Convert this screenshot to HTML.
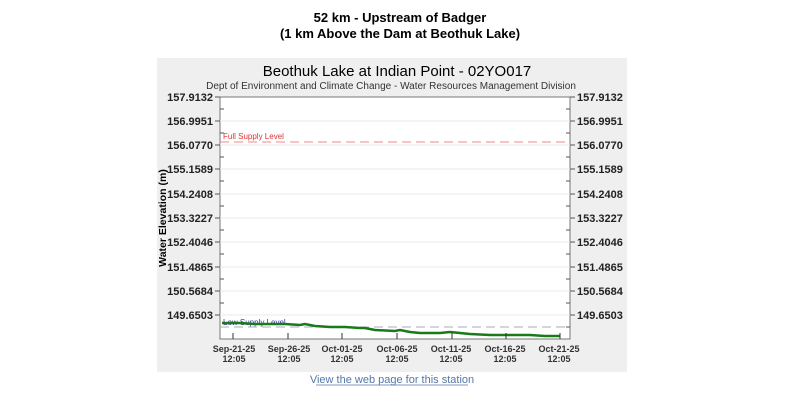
<!DOCTYPE html>
<html><head><style>
body{margin:0;background:#fff;width:800px;height:400px;overflow:hidden;font-family:"Liberation Sans",Arial,sans-serif}
</style></head><body>
<svg width="800" height="400" xmlns="http://www.w3.org/2000/svg" font-family="Liberation Sans, Arial, sans-serif">
<text x="400" y="22" text-anchor="middle" font-size="13" font-weight="bold">52 km - Upstream of Badger</text>
<text x="400" y="38" text-anchor="middle" font-size="13" font-weight="bold">(1 km Above the Dam at Beothuk Lake)</text>
<rect x="157" y="58" width="470" height="314" fill="#efefef"/>
<text x="397" y="76" text-anchor="middle" font-size="15">Beothuk Lake at Indian Point - 02YO017</text>
<text x="391" y="89" text-anchor="middle" font-size="10" fill="#333">Dept of Environment and Climate Change - Water Resources Management Division</text>
<rect x="220" y="97" width="350" height="242" fill="#fff" stroke="#777"/>
<g stroke="#e8e8e8">
<line x1="220" y1="121" x2="570" y2="121"/><line x1="220" y1="145" x2="570" y2="145"/><line x1="220" y1="169" x2="570" y2="169"/><line x1="220" y1="194" x2="570" y2="194"/><line x1="220" y1="218" x2="570" y2="218"/><line x1="220" y1="242" x2="570" y2="242"/><line x1="220" y1="267" x2="570" y2="267"/><line x1="220" y1="291" x2="570" y2="291"/><line x1="220" y1="315" x2="570" y2="315"/>
</g>
<g font-size="11" font-weight="bold" fill="#222">
<g text-anchor="end">
<text x="213" y="101">157.9132</text><text x="213" y="125">156.9951</text><text x="213" y="149">156.0770</text><text x="213" y="173">155.1589</text><text x="213" y="198">154.2408</text><text x="213" y="222">153.3227</text><text x="213" y="246">152.4046</text><text x="213" y="271">151.4865</text><text x="213" y="295">150.5684</text><text x="213" y="319">149.6503</text>
</g>
<g>
<text x="577" y="101">157.9132</text><text x="577" y="125">156.9951</text><text x="577" y="149">156.0770</text><text x="577" y="173">155.1589</text><text x="577" y="198">154.2408</text><text x="577" y="222">153.3227</text><text x="577" y="246">152.4046</text><text x="577" y="271">151.4865</text><text x="577" y="295">150.5684</text><text x="577" y="319">149.6503</text>
</g>
</g>
<g stroke="#555">
<line x1="215" y1="97" x2="220" y2="97"/><line x1="215" y1="121" x2="220" y2="121"/><line x1="215" y1="145" x2="220" y2="145"/><line x1="215" y1="169" x2="220" y2="169"/><line x1="215" y1="194" x2="220" y2="194"/><line x1="215" y1="218" x2="220" y2="218"/><line x1="215" y1="242" x2="220" y2="242"/><line x1="215" y1="267" x2="220" y2="267"/><line x1="215" y1="291" x2="220" y2="291"/><line x1="215" y1="315" x2="220" y2="315"/>
<line x1="570" y1="97" x2="575" y2="97"/><line x1="570" y1="121" x2="575" y2="121"/><line x1="570" y1="145" x2="575" y2="145"/><line x1="570" y1="169" x2="575" y2="169"/><line x1="570" y1="194" x2="575" y2="194"/><line x1="570" y1="218" x2="575" y2="218"/><line x1="570" y1="242" x2="575" y2="242"/><line x1="570" y1="267" x2="575" y2="267"/><line x1="570" y1="291" x2="575" y2="291"/><line x1="570" y1="315" x2="575" y2="315"/>
</g>
<g stroke="#555">
<line x1="220" y1="109" x2="224" y2="109"/><line x1="220" y1="133" x2="224" y2="133"/><line x1="220" y1="157" x2="224" y2="157"/><line x1="220" y1="181" x2="224" y2="181"/><line x1="220" y1="206" x2="224" y2="206"/><line x1="220" y1="230" x2="224" y2="230"/><line x1="220" y1="254" x2="224" y2="254"/><line x1="220" y1="279" x2="224" y2="279"/><line x1="220" y1="303" x2="224" y2="303"/><line x1="220" y1="327" x2="224" y2="327"/>
<line x1="566" y1="109" x2="570" y2="109"/><line x1="566" y1="133" x2="570" y2="133"/><line x1="566" y1="157" x2="570" y2="157"/><line x1="566" y1="181" x2="570" y2="181"/><line x1="566" y1="206" x2="570" y2="206"/><line x1="566" y1="230" x2="570" y2="230"/><line x1="566" y1="254" x2="570" y2="254"/><line x1="566" y1="279" x2="570" y2="279"/><line x1="566" y1="303" x2="570" y2="303"/><line x1="566" y1="327" x2="570" y2="327"/>
</g>
<text transform="translate(166,218) rotate(-90)" text-anchor="middle" font-size="10.5" font-weight="bold">Water Elevation (m)</text>
<line x1="220" y1="142" x2="570" y2="142" stroke="#e88" stroke-dasharray="9,5"/>
<text x="223" y="139" font-size="8" fill="#d33">Full Supply Level</text>
<line x1="220" y1="327" x2="570" y2="327" stroke="#aab" stroke-dasharray="9,5"/>
<text x="223" y="325" font-size="8" fill="#33a">Low Supply Level</text>
<polyline fill="none" stroke="#1a7a1a" stroke-width="2.5" points="222,323 240,323 255,324 270,324 285,324 300,325 305,324 315,326 330,327 345,327 360,328 365,328 375,330 395,331 400,330 410,332 420,333 440,333 450,332 460,333 470,334 490,335 510,335 530,335 545,336 560,336"/>
<g stroke="#333">
<line x1="233" y1="333" x2="233" y2="339"/><line x1="288" y1="333" x2="288" y2="339"/><line x1="342" y1="333" x2="342" y2="339"/><line x1="397" y1="333" x2="397" y2="339"/><line x1="452" y1="333" x2="452" y2="339"/><line x1="506" y1="333" x2="506" y2="339"/><line x1="560" y1="333" x2="560" y2="339"/>
</g>
<g font-size="9" font-weight="bold" fill="#333" text-anchor="middle">
<text x="234" y="352">Sep-21-25</text><text x="234" y="362">12:05</text>
<text x="289" y="352">Sep-26-25</text><text x="289" y="362">12:05</text>
<text x="342" y="352">Oct-01-25</text><text x="342" y="362">12:05</text>
<text x="397" y="352">Oct-06-25</text><text x="397" y="362">12:05</text>
<text x="451" y="352">Oct-11-25</text><text x="451" y="362">12:05</text>
<text x="505" y="352">Oct-16-25</text><text x="505" y="362">12:05</text>
<text x="559" y="352">Oct-21-25</text><text x="559" y="362">12:05</text>
</g>
<text x="392" y="383" text-anchor="middle" font-size="11" fill="#5577aa">View the web page for this station</text>
<line x1="316" y1="385" x2="468" y2="385" stroke="#5577aa" stroke-width="0.8"/>
</svg>
</body></html>
